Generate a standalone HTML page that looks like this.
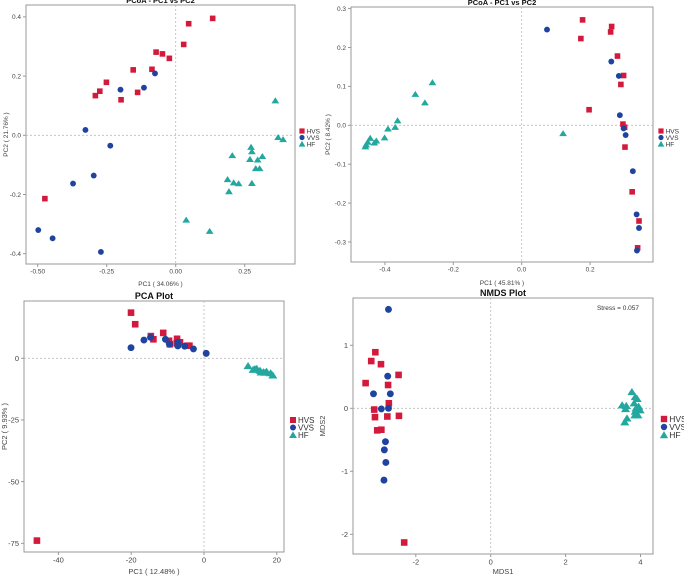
<!DOCTYPE html>
<html><head><meta charset="utf-8"><style>
body{margin:0;background:#fff;}
svg{display:block;font-family:"Liberation Sans",sans-serif;}
</style></head><body>
<svg id="fig" width="684" height="578" viewBox="0 0 684 578"></svg>
<script>
// Panel A: PCoA 34.06/21.76
const aHVSx=[0.134,0.047,0.029,-0.071,-0.048,-0.023,-0.086,-0.154,-0.251,-0.275,-0.291,-0.198,-0.138,-0.474];
const aHVSy=[0.395,0.377,0.307,0.281,0.275,0.26,0.223,0.221,0.179,0.149,0.134,0.12,0.145,-0.214];
const aVVSx=[-0.075,-0.2,-0.115,-0.327,-0.237,-0.297,-0.372,-0.498,-0.446,-0.271];
const aVVSy=[0.209,0.154,0.161,0.018,-0.035,-0.136,-0.163,-0.32,-0.348,-0.394];
const aHFx=[0.361,0.371,0.389,0.273,0.276,0.205,0.269,0.314,0.297,0.29,0.304,0.188,0.21,0.228,0.276,0.193,0.038,0.123];
const aHFy=[0.117,-0.007,-0.014,-0.04,-0.055,-0.068,-0.081,-0.071,-0.083,-0.112,-0.112,-0.149,-0.16,-0.163,-0.162,-0.19,-0.286,-0.324];
const aXticks=[-0.5,-0.25,0,0.25];const aXlabels=["-0.50","-0.25","0.00","0.25"];
const aYticks=[0.4,0.2,0,-0.2,-0.4];const aYlabels=["0.4","0.2","0.0","-0.2","-0.4"];
// Panel B: PCoA 45.81/8.42
const bHVSx=[0.178,0.263,0.26,0.173,0.28,0.298,0.29,0.197,0.296,0.301,0.302,0.323,0.343,0.339];
const bHVSy=[0.271,0.254,0.24,0.223,0.178,0.128,0.105,0.04,0.003,-0.005,-0.056,-0.171,-0.246,-0.315];
const bVVSx=[0.074,0.262,0.284,0.287,0.298,0.304,0.325,0.336,0.343,0.337];
const bVVSy=[0.246,0.164,0.127,0.026,-0.008,-0.025,-0.118,-0.229,-0.264,-0.322];
const bHFx=[-0.261,-0.311,-0.283,-0.363,-0.391,-0.37,-0.401,0.121,-0.443,-0.425,-0.431,-0.45,-0.455,-0.457];
const bHFy=[0.11,0.08,0.058,0.012,-0.009,-0.005,-0.032,-0.021,-0.033,-0.04,-0.045,-0.043,-0.05,-0.055];
const bXticks=[-0.4,-0.2,0,0.2];const bXlabels=["-0.4","-0.2","0.0","0.2"];
const bYticks=[0.3,0.2,0.1,0,-0.1,-0.2,-0.3];const bYlabels=["0.3","0.2","0.1","0.0","-0.1","-0.2","-0.3"];
// Panel C: PCA
const cHVSx=[-20.05,-18.9,-14.6,-13.9,-11.2,-9.6,-7.4,-6.6,-4.5,-4.0,-9.4,-7.5,-45.9];
const cHVSy=[18.5,13.8,9.0,7.7,10.3,7.1,7.9,6.5,5.1,5.1,5.7,6.1,-73.9];
const cVVSx=[-20.05,-16.5,-14.7,-10.6,-9.5,-7.2,-7.2,-5.3,-2.9,0.6];
const cVVSy=[4.3,7.4,8.5,7.7,5.7,6.5,5.0,4.9,3.8,2.0];
const cHFx=[12.1,14.0,14.5,15.4,16.3,17.2,18.3,18.9,13.5,15.7,16.8];
const cHFy=[-3.1,-4.3,-4.2,-5.0,-5.6,-5.4,-6.0,-6.9,-4.6,-5.7,-5.8];
const cXticks=[-40,-20,0,20];const cXlabels=["-40","-20","0","20"];
const cYticks=[0,-25,-50,-75];const cYlabels=["0","-25","-50","-75"];
// Panel D: NMDS
const dHVSx=[-3.08,-3.19,-2.93,-2.46,-3.34,-2.74,-2.72,-3.11,-3.09,-2.76,-2.45,-3.03,-2.92,-2.31];
const dHVSy=[0.89,0.75,0.70,0.53,0.40,0.37,0.08,-0.02,-0.14,-0.13,-0.12,-0.35,-0.34,-2.13];
const dVVSx=[-2.73,-2.75,-3.13,-2.68,-2.92,-2.73,-2.81,-2.84,-2.80,-2.85];
const dVVSy=[1.57,0.51,0.23,0.23,-0.01,0.0,-0.53,-0.66,-0.86,-1.14];
const dHFx=[3.77,3.86,3.91,3.83,3.95,3.51,3.62,3.6,3.88,3.99,3.86,3.93,3.85,3.64,3.58];
const dHFy=[0.26,0.18,0.15,0.08,0.03,0.05,0.04,-0.01,0,-0.03,-0.05,-0.11,-0.11,-0.16,-0.22];
const dXticks=[-2,0,2,4];const dXlabels=["-2","0","2","4"];
const dYticks=[1,0,-1,-2];const dYlabels=["1","0","-1","-2"];

const NS="http://www.w3.org/2000/svg";
const svg=document.getElementById('fig');
const RED="#d41a3c",BLUE="#1f44a0",TEAL="#22a89e";
function mk(tag,attrs,parent){const e=document.createElementNS(NS,tag);for(const k in attrs)e.setAttribute(k,attrs[k]);(parent||svg).appendChild(e);return e;}
function txt(s,attrs,parent){const e=mk('text',attrs,parent);e.textContent=s;return e;}

function panel(p){
  const g=mk('g',{});
  
  
  const sx=v=>p.x0+v*p.kx, sy=v=>p.y0-v*p.ky;
  const box=mk('rect',{x:p.L,y:p.T,width:p.R-p.L,height:p.B-p.T,fill:'none',stroke:'#999','stroke-width':1},g);
  
  
  const zx=mk('line',{x1:sx(0),x2:sx(0),y1:p.T,y2:p.B,stroke:'#bbb','stroke-dasharray':'2,2','stroke-width':0.8},g);
  
  
  const zy=mk('line',{x1:p.L,x2:p.R,y1:sy(0),y2:sy(0),stroke:'#bbb','stroke-dasharray':'2,2','stroke-width':0.8},g);
  
  
  p.xt.forEach((v,i)=>{const X=sx(v);mk('line',{x1:X,x2:X,y1:p.B,y2:p.B+3,stroke:'#999'},g);
    const t=txt(p.xl[i],{x:X,y:p.B+3+p.fs,'font-size':p.fs,'text-anchor':'middle',fill:'#444'},g);
    
    });
  p.yt.forEach((v,i)=>{const Y=sy(v);mk('line',{x1:p.L-3,x2:p.L,y1:Y,y2:Y,stroke:'#999'},g);
    const t=txt(p.yl[i],{x:p.L-5,y:Y+p.fs*0.35,'font-size':p.fs,'text-anchor':'end',fill:'#444'},g);
    
    });
  const tt=txt(p.title,{x:(p.L+p.R)/2,y:p.T-2,'font-size':p.tfs,'font-weight':'bold','text-anchor':'middle',fill:'#111'},g);
  
  
  const xa=txt(p.xtitle,{x:(p.L+p.R)/2,y:p.xty,'font-size':p.afs,'text-anchor':'middle',fill:'#444'},g);
  
  
  const ya=txt(p.ytitle,{x:0,y:0,'font-size':p.afs,'text-anchor':'middle',fill:'#444',transform:`translate(${p.ytx},${(p.T+p.B)/2}) rotate(-90)`},g);
  
  
  const m=p.ms;
  function sq(x,y){const r=mk('rect',{x:x-m,y:y-m,width:2*m,height:2*m,fill:RED},g);return r;}
  function ci(x,y){return mk('circle',{cx:x,cy:y,r:m*1.05,fill:BLUE},g);}
  function tr(x,y){const h=m*1.2;return mk('polygon',{points:`${x},${y-h} ${x-h*1.15},${y+h*0.8} ${x+h*1.15},${y+h*0.8}`,fill:TEAL},g);}
  p.hvsx.forEach((v,i)=>{const e=sq(sx(v),sy(p.hvsy[i]));
    
    });
  p.vvsx.forEach((v,i)=>{const e=ci(sx(v),sy(p.vvsy[i]));
    
    });
  p.hfx.forEach((v,i)=>{const e=tr(sx(v),sy(p.hfy[i]));
    
    });
  // legend
  const lg=mk('g',{},g);
  
  
  const names=["HVS","VVS","HF"],lm=p.lms;
  names.forEach((n,i)=>{const y=p.ly+i*p.lsp,x=p.lx;
    let e;
    if(i==0)e=mk('rect',{x:x-lm,y:y-lm,width:2*lm,height:2*lm,fill:RED},lg);
    else if(i==1)e=mk('circle',{cx:x,cy:y,r:lm,fill:BLUE},lg);
    else e=mk('polygon',{points:`${x},${y-lm*1.2} ${x-lm*1.3},${y+lm} ${x+lm*1.3},${y+lm}`,fill:TEAL},lg);
    
    
    const t=txt(n,{x:x+lm+2,y:y+p.lfs*0.38,'font-size':p.lfs,fill:'#333'},lg);
    
    });
  return g;
}

panel({name:'pcoa-panel-a',L:26,R:295,T:5,B:264,x0:175.7,kx:276,y0:135.3,ky:296,
 xt:aXticks,xl:aXlabels,yt:aYticks,yl:aYlabels,fs:6.5,tfs:7.5,afs:6.5,
 title:"PCoA - PC1 vs PC2",xtitle:"PC1 ( 34.06% )",ytitle:"PC2 ( 21.76% )",xty:286,ytx:8,
 hvsx:aHVSx,hvsy:aHVSy,vvsx:aVVSx,vvsy:aVVSy,hfx:aHFx,hfy:aHFy,ms:2.8,
 lx:302,ly:131,lsp:6.5,lms:2.6,lfs:6.5});
panel({name:'pcoa-panel-b',L:351,R:653,T:7,B:262,x0:521.7,kx:342,y0:125.3,ky:389,
 xt:bXticks,xl:bXlabels,yt:bYticks,yl:bYlabels,fs:6.5,tfs:7.5,afs:6.5,
 title:"PCoA - PC1 vs PC2",xtitle:"PC1 ( 45.81% )",ytitle:"PC2 ( 8.42% )",xty:285,ytx:330,
 hvsx:bHVSx,hvsy:bHVSy,vvsx:bVVSx,vvsy:bVVSy,hfx:bHFx,hfy:bHFy,ms:2.8,
 lx:661,ly:131,lsp:6.5,lms:2.6,lfs:6.5});
panel({name:'pca-panel',L:24,R:284,T:301,B:552,x0:204,kx:3.64,y0:358.3,ky:2.467,
 xt:cXticks,xl:cXlabels,yt:cYticks,yl:cYlabels,fs:7.5,tfs:9,afs:7.5,
 title:"PCA Plot",xtitle:"PC1 ( 12.48% )",ytitle:"PC2 ( 9.93% )",xty:574,ytx:7,
 hvsx:cHVSx,hvsy:cHVSy,vvsx:cVVSx,vvsy:cVVSy,hfx:cHFx,hfy:cHFy,ms:3.3,
 lx:293,ly:420,lsp:7.5,lms:3,lfs:8});
panel({name:'nmds-panel',L:353,R:653,T:298,B:554,x0:490.7,kx:37.45,y0:408.3,ky:63,
 xt:dXticks,xl:dXlabels,yt:dYticks,yl:dYlabels,fs:7.5,tfs:9,afs:7.5,
 title:"NMDS Plot",xtitle:"MDS1",ytitle:"MDS2",xty:574,ytx:325,
 hvsx:dHVSx,hvsy:dHVSy,vvsx:dVVSx,vvsy:dVVSy,hfx:dHFx,hfy:dHFy,ms:3.3,
 lx:664,ly:419,lsp:8,lms:3.2,lfs:8.5});
const st=txt("Stress = 0.057",{x:618,y:310,'font-size':6.5,'text-anchor':'middle',fill:'#333'});


</script>
</body></html>
